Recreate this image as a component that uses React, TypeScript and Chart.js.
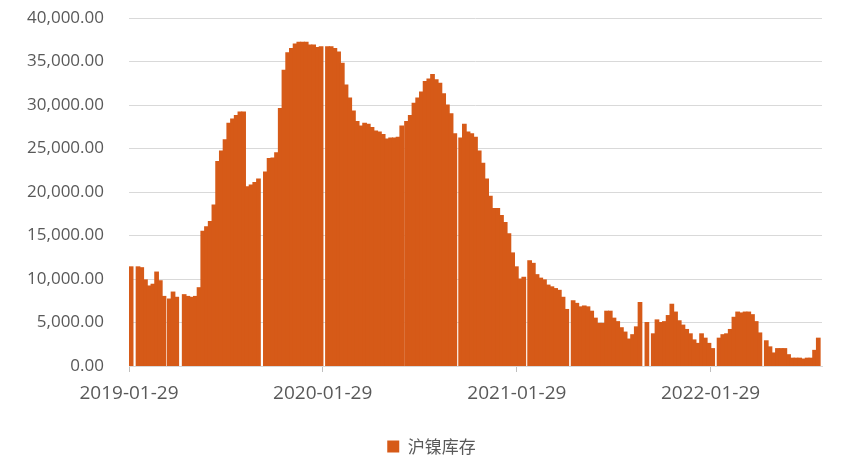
import { useEffect, useRef } from 'react';
import { Chart, registerables } from 'chart.js';

Chart.register(...registerables);

const seriesName = '沪镍库存';
const axisStart = '2019-01-29';
const axisEnd = '2022-08-27';
const tickDates = ['2019-01-29', '2020-01-29', '2021-01-29', '2022-01-29'];
const yMax = 40000;
const yStep = 5000;

// weekly inventory values, one array per run of trading between holiday breaks
const segmentStarts = [
  '2019-02-02', '2019-02-15', '2019-04-15', '2019-05-13', '2019-10-13',
  '2020-02-07', '2020-07-05', '2020-10-15', '2021-02-22', '2021-05-15',
  '2021-10-01', '2021-10-13', '2022-02-14', '2022-05-14',
];
const seg2019a = [11400];
const seg2019b = [11400, 11300, 9900, 9200, 9400, 10800, 9800, 8000];
const seg2019c = [7700, 8500, 7900];
const seg2019d = [8200, 8000, 7900, 8000, 9000, 15500, 16000, 16600, 18500, 23500, 24700, 26000, 27900, 28400, 28800, 29200, 29200, 20600, 20800, 21100, 21500];
const seg2019e = [22300, 23850, 23900, 24500, 29600, 34000, 36000, 36500, 37000, 37200, 37200, 37200, 36900, 36900, 36600, 36700];
const seg2020a = [36700, 36700, 36500, 36100, 34800, 32300, 30800, 29300, 28100, 27600, 27900, 27800, 27400, 27000, 26900, 26600, 26100, 26200, 26200, 26300, 27600];
const seg2020b = [28100, 28800, 30200, 30800, 31500, 32700, 33000, 33500, 32900, 32500, 31300, 30000, 29000, 26700];
const seg2020c = [26200, 27800, 26900, 26700, 26300, 24700, 23300, 21500, 19500, 18100, 18100, 17300, 16500, 15200, 13000, 11400, 10000, 10200];
const seg2021a = [12100, 11800, 10500, 10100, 9900, 9300, 9100, 8900, 8700, 7900, 6500];
const seg2021b = [7500, 7200, 6800, 6900, 6800, 6300, 5500, 4900, 4900, 6300, 6300, 5500, 5100, 4400, 3900, 3100, 3600, 4500, 7300];
const seg2021c = [5000];
const seg2021d = [3700, 5300, 5000, 5100, 5800, 7100, 6200, 5200, 4700, 4200, 3700, 3000, 2600, 3700, 3200, 2600, 2000];
const seg2022a = [3200, 3600, 3700, 4200, 5600, 6200, 6100, 6200, 6200, 5900, 5100, 3800];
const seg2022b = [2900, 2200, 1500, 2000, 2000, 2000, 1300, 900, 900, 900, 800, 900, 900, 1800, 3200];

const segments = [
  seg2019a, seg2019b, seg2019c, seg2019d, seg2019e,
  seg2020a, seg2020b, seg2020c, seg2021a, seg2021b,
  seg2021c, seg2021d, seg2022a, seg2022b,
];

const DAY_MS = 86400000;
const dayOf = (s: string) => Math.round((Date.parse(s) - Date.parse(axisStart)) / DAY_MS);
const dateOf = (d: number) => new Date(Date.parse(axisStart) + d * DAY_MS).toISOString().slice(0, 10);

const BAR_COLOR = '#D65A18';
const TEXT_COLOR = '#595959';
const GRID_COLOR = '#D9D9D9';

export default function App() {
  const ref = useRef<HTMLCanvasElement | null>(null);

  useEffect(() => {
    if (!ref.current) return;
    const points = segments.flatMap((vals, k) =>
      vals.map((v, i) => ({ x: dayOf(segmentStarts[k]) + 7 * i, y: v }))
    );
    const tickFont = { family: "'Open Sans', 'Noto Sans', sans-serif", size: 17 };
    const chart = new Chart(ref.current, {
      type: 'bar',
      data: {
        datasets: [
          {
            label: seriesName,
            data: points as any,
            backgroundColor: BAR_COLOR,
            borderWidth: 0,
            barPercentage: 1,
            categoryPercentage: 1,
            inflateAmount: 0.5,
          } as any,
        ],
      },
      options: {
        animation: false,
        responsive: false,
        layout: { padding: { left: 0, right: 0, top: 18, bottom: -6 } },
        plugins: {
          tooltip: { enabled: false },
          legend: {
            position: 'bottom',
            labels: {
              boxWidth: 12,
              boxHeight: 12,
              padding: 0,
              color: TEXT_COLOR,
              font: { family: "'Noto Sans CJK SC', 'Noto Sans', sans-serif", size: 17 },
            },
          },
        },
        scales: {
          x: {
            type: 'linear',
            min: dayOf(axisStart),
            max: dayOf(axisEnd),
            offset: false,
            afterBuildTicks: (s: any) => {
              s.ticks = tickDates.map((d) => ({ value: dayOf(d) }));
            },
            afterFit: (s: any) => {
              s.height = 72;
            },
            ticks: {
              autoSkip: false,
              maxRotation: 0,
              padding: 10,
              color: TEXT_COLOR,
              font: { ...tickFont, size: 19 },
              callback: (v: any) => dateOf(Number(v)),
            },
            grid: { offset: false, drawOnChartArea: false, drawTicks: true, tickLength: 6, color: '#BFBFBF' },
            border: { display: true, color: GRID_COLOR, width: 1 },
          },
          y: {
            min: 0,
            max: yMax,
            afterFit: (s: any) => {
              s.width = 129;
              s.paddingTop = 0;
              s.paddingBottom = 0;
            },
            ticks: {
              stepSize: yStep,
              padding: 25,
              color: TEXT_COLOR,
              font: tickFont,
              callback: (v: any) =>
                Number(v).toLocaleString('en-US', { minimumFractionDigits: 2, maximumFractionDigits: 2 }),
            },
            grid: { color: GRID_COLOR, drawTicks: false },
            border: { display: false },
          },
          yRight: {
            position: 'right',
            afterFit: (s: any) => {
              s.width = 41;
              s.paddingTop = 0;
              s.paddingBottom = 0;
            },
            ticks: { display: false },
            grid: { display: false },
            border: { display: false },
          },
        },
      },
    });
    return () => chart.destroy();
  }, []);

  return (
    <div style={{ position: 'absolute', left: 0, top: 0, width: 863, height: 459, background: '#fff' }}>
      <canvas ref={ref} width={863} height={459} style={{ display: 'block', width: '863px', height: '459px' }} />
    </div>
  );
}
